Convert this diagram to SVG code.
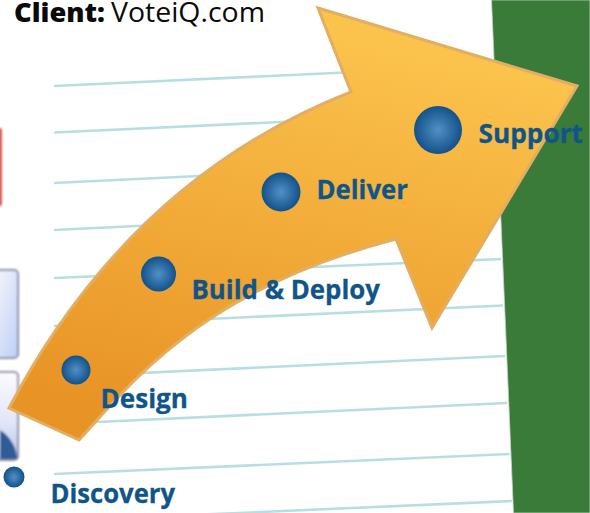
<svg xmlns="http://www.w3.org/2000/svg" width="590" height="513" viewBox="0 0 590 513">
<style>
.rule{stroke:#b8dfe0;stroke-width:2.6;fill:none}
.lab{font-family:"Open Sans","Noto Sans",sans-serif;font-weight:700;font-size:27px;fill:#10558a;stroke:#10558a;stroke-width:0.3}
.cli{font-family:"Open Sans","Noto Sans",sans-serif;font-size:27px;fill:#0a0a0a}
.dot{fill:url(#ball)}
</style>
<defs>
<linearGradient id="arrowFill" gradientUnits="userSpaceOnUse" x1="345" y1="40" x2="255" y2="440">
<stop offset="0" stop-color="#fbc24c"/><stop offset="1" stop-color="#e89326"/>
</linearGradient>
<radialGradient id="ball" cx="0.5" cy="0.5" r="0.5">
<stop offset="0" stop-color="#528fc6"/><stop offset="1" stop-color="#12528a"/>
</radialGradient>
<linearGradient id="boxA" x1="0" y1="0" x2="1" y2="1">
<stop offset="0" stop-color="#fcf8fc"/><stop offset="1" stop-color="#bccff6"/>
</linearGradient>
<linearGradient id="boxB" x1="0" y1="0" x2="0" y2="1">
<stop offset="0" stop-color="#fdfbfe"/><stop offset="0.6" stop-color="#dfe4f8"/><stop offset="1" stop-color="#b4c4e8"/>
</linearGradient>
<filter id="soft" x="-30%" y="-30%" width="160%" height="160%"><feGaussianBlur stdDeviation="1"/></filter>
</defs>
<rect width="590" height="513" fill="#fff"/>
<polygon points="491.5,0 590,0 590,513 513.5,513" fill="#3a7b3a" stroke="#c4d4c4" stroke-width="0.8"/>
<g id="left-images" filter="url(#soft)">
<rect x="-6" y="128" width="8" height="78" rx="2" fill="#dc5a50"/>
<rect x="-8" y="270" width="26" height="88" rx="4" fill="url(#boxA)" stroke="#8a8fa6" stroke-width="2"/>
<rect x="-8" y="372" width="26" height="88" rx="4" fill="url(#boxB)" stroke="#8a8fa6" stroke-width="2"/>
<path d="M0,430 C10,436 17,448 17,459 L0,459 Z" fill="#2f5b96"/>
</g>
<g id="connectors">
<line class="rule" x1="54" y1="86" x2="345" y2="72.5"/>
<line class="rule" x1="54" y1="132.5" x2="345" y2="119"/>
<line class="rule" x1="54" y1="183" x2="345" y2="169"/>
<line class="rule" x1="54" y1="230" x2="345" y2="216"/>
<line class="rule" x1="54" y1="278" x2="501" y2="259"/>
<line class="rule" x1="54" y1="326" x2="503" y2="305.5"/>
<line class="rule" x1="54" y1="377" x2="505" y2="356"/>
<line class="rule" x1="54" y1="424" x2="507" y2="403"/>
<line class="rule" x1="54" y1="474" x2="509.5" y2="454"/>
<line class="rule" x1="54" y1="521" x2="512" y2="501"/>
</g>
<path id="arrow" d="M318,8 L577,86 L432,328 L396,239 C200,290 130,385 79,440 L9,408 C66,300 165,165 351,92 Z" fill="url(#arrowFill)" stroke="#e2ae62" stroke-width="3"/>
<g id="client"><text class="cli" x="14" y="22"><tspan font-weight="800" textLength="91" lengthAdjust="spacingAndGlyphs">Client:</tspan><tspan x="111" textLength="154" lengthAdjust="spacingAndGlyphs">VoteiQ.com</tspan></text></g>
<g id="support"><circle class="dot" cx="438" cy="130" r="24"/><text class="lab" x="478.5" y="143" textLength="104.5" lengthAdjust="spacingAndGlyphs">Support</text></g>
<g id="deliver"><circle class="dot" cx="281" cy="192" r="19.5"/><text class="lab" x="316.5" y="199" textLength="91.5" lengthAdjust="spacingAndGlyphs">Deliver</text></g>
<g id="build"><circle class="dot" cx="158.5" cy="274" r="17.5"/><text class="lab" x="191.5" y="299" textLength="188.5" lengthAdjust="spacingAndGlyphs">Build &amp; Deploy</text></g>
<g id="design"><circle class="dot" cx="76" cy="370" r="14.5"/><text class="lab" x="100.5" y="408" textLength="87.5" lengthAdjust="spacingAndGlyphs">Design</text></g>
<g id="discovery"><circle class="dot" cx="14" cy="477" r="10.5"/><text class="lab" x="50.5" y="503" textLength="124.5" lengthAdjust="spacingAndGlyphs">Discovery</text></g>
</svg>
